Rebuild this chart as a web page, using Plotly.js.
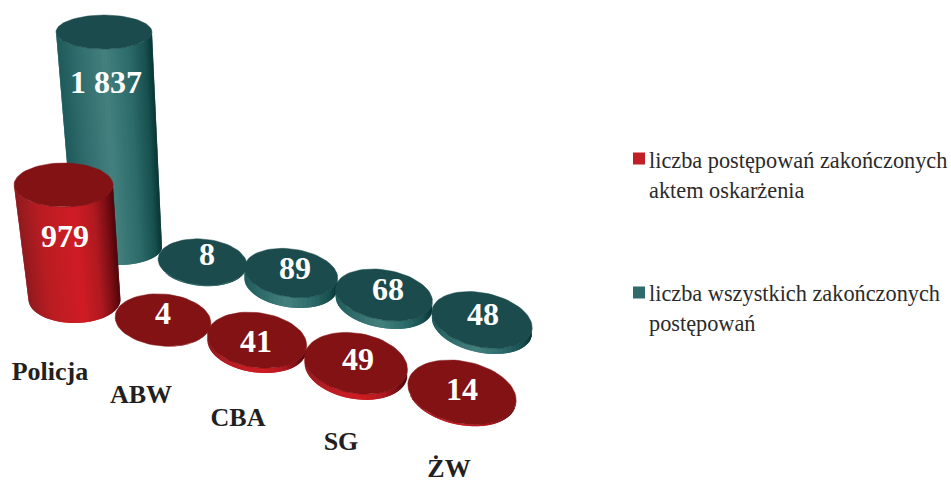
<!DOCTYPE html>
<html><head><meta charset="utf-8">
<script src="https://cdn.plot.ly/plotly-3.0.1.min.js"></script>
<style>html,body{margin:0;padding:0;background:#fff}#c{width:951px;height:482px}</style>
</head><body><div id="c"></div>
<script>
// ---- data ----
const categories = ['Policja','ABW','CBA','SG','ŻW'];
const accusedCases = [979,4,41,49,14];
const allCases = [1837,8,89,68,48];
const seriesNames = ['liczba postępowań zakończonych aktem oskarżenia','liczba wszystkich zakończonych postępowań'];
const legendLines1 = ['liczba postępowań zakończonych','aktem oskarżenia'];
const legendLines2 = ['liczba wszystkich zakończonych','postępowań'];

// ---- picture geometry (pseudo-3D placement, px) ----
const W=951,H=482,K=0.117; // px per case
const accusedBaseX=[74.5,163,257,356,462], accusedBaseY=[299.5,320.5,345,369,394];
const accusedRx=[46,48,50,52,55], accusedRy=[23.5,26,27.5,30,31];
const allBaseX=[118,202.5,291,384,482], allBaseY=[247,263,283.4,303,325.6];
const allRx=[44,44.5,47,49,51], allRy=[18,23,24,25,27];
const rotation=[0,5,8,10,12];
const accusedTop=[{dx:-11,sx:49.5/46,sy:22/23.5},null,null,null,null];
const allTop=[{dx:-14,sx:48/44,sy:17/18},null,null,null,null];
const accusedLabelPx=[[65,239],[163,316],[256,344],[358,362],[462,392]];
const allLabelPx=[[106,85],[207,257],[295,271],[388,292],[483,317]];
const catLabelPx=[[50,373],[141,396],[238,419],[341,443],[449,470]];
const swatchPx=[[639,158.5],[639,292.5]];

const redStops=[[-1,[142,26,30]],[-.5,[184,29,34]],[.2,[208,28,36]],[.6,[176,26,32]],[.85,[122,14,20]],[1,[79,6,11]]];
const tealStops=[[-1,[31,90,90]],[-.6,[45,106,105]],[0,[67,128,126]],[.5,[45,108,107]],[.85,[23,80,79]],[1,[8,53,53]]];
const redTop='#831214', tealTop='#1b4b4d';

const yv=p=>(H-p)/K;
function shade(stops,t){
  for(let i=1;i<stops.length;i++){
    if(t<=stops[i][0]){
      const a=stops[i-1],b=stops[i],f=(t-a[0])/(b[0]-a[0]);
      return 'rgb('+a[1].map((c,j)=>Math.round(c+(b[1][j]-c)*f)).join(',')+')';
    }
  }
  return 'rgb('+stops[stops.length-1][1].join(',')+')';
}
function pt(cx,cy,rx,ry,rot,th){
  const c=Math.cos(rot),s=Math.sin(rot),a=rx*Math.cos(th),b=ry*Math.sin(th);
  return [cx+a*c-b*s, cy+a*s+b*c];
}
const traces=[];
function poly(points,color,lw){
  traces.push({type:'scatter',mode:'lines',x:points.map(p=>p[0]),y:points.map(p=>yv(p[1])),
    fill:'toself',fillcolor:color,line:{color:color,width:lw},hoverinfo:'skip',showlegend:false});
}
function column(value,cx,cy,rx,ry,rotDeg,top,stops,topColor){
  const h=value*K, rot=rotDeg*Math.PI/180;
  const t=top||{dx:0,sx:1,sy:1};
  const tx=cx+t.dx, ty=cy-h, trx=rx*t.sx, try_=ry*t.sy;
  const n=top?48:30;
  // painted from both outer edges toward the middle, each strip overlapping the one before, so no seams show
  const order=[];
  for(let i=0;i<n;i++) order.push(i);
  order.forEach(i=>{
    const a=Math.PI*i/n,b=Math.min(Math.PI,Math.PI*(i+2)/n),m=Math.PI*(i+.5)/n;
    poly([pt(cx,cy,rx,ry,rot,a),pt(cx,cy,rx,ry,rot,b),pt(tx,ty,trx,try_,rot,b),pt(tx,ty,trx,try_,rot,a),pt(cx,cy,rx,ry,rot,a)],
      shade(stops,Math.cos(m)),0);
  });
  const face=[];
  for(let i=0;i<=72;i++) face.push(pt(tx,ty,trx,try_,rot,2*Math.PI*i/72));
  poly(face,topColor,0.5);
}
allCases.forEach((v,i)=>column(v,allBaseX[i],allBaseY[i],allRx[i],allRy[i],rotation[i],allTop[i],tealStops,tealTop));
accusedCases.forEach((v,i)=>column(v,accusedBaseX[i],accusedBaseY[i],accusedRx[i],accusedRy[i],rotation[i],accusedTop[i],redStops,redTop));

const fmt=v=>String(v).replace(/\B(?=(\d{3})+$)/g,' ');
const serif='"Liberation Serif","Times New Roman",serif';
function labels(vals,pos){
  traces.push({type:'scatter',mode:'text',x:pos.map(p=>p[0]),y:pos.map(p=>yv(p[1])),text:vals.map(fmt),
    textposition:'middle center',textfont:{family:serif,size:32,color:'#ffffff',weight:700},hoverinfo:'skip',showlegend:false});
}
labels(allCases,allLabelPx);
labels(accusedCases,accusedLabelPx);
traces.push({type:'scatter',mode:'text',x:catLabelPx.map(p=>p[0]),y:catLabelPx.map(p=>yv(p[1])),text:categories,
  textposition:'middle center',textfont:{family:serif,size:26,color:'#231f20',weight:700},hoverinfo:'skip',showlegend:false});
// legend swatches
['#c01f26','#2f6b6b'].forEach((col,i)=>traces.push({type:'scatter',mode:'markers',name:seriesNames[i],
  x:[swatchPx[i][0]],y:[yv(swatchPx[i][1])],marker:{symbol:'square',size:12,color:col},hoverinfo:'skip',showlegend:false}));

const legendAnn=[];
[[legendLines1,[160.5,190.5]],[legendLines2,[293,323]]].forEach(([lines,ys])=>{
  lines.forEach((txt,i)=>legendAnn.push({text:txt,xref:'x',yref:'y',x:649,y:yv(ys[i]),xanchor:'left',yanchor:'middle',showarrow:false,
    font:{family:serif,size:22.3,color:'#2b2a29'},xshift:-2}));
});

Plotly.newPlot('c',traces,{
  width:W,height:H,margin:{l:0,r:0,t:0,b:0},paper_bgcolor:'#fff',plot_bgcolor:'#fff',showlegend:false,
  xaxis:{range:[0,W],visible:false,fixedrange:true},
  yaxis:{range:[0,H/K],visible:false,fixedrange:true},
  annotations:legendAnn
},{staticPlot:true,displayModeBar:false});
</script></body></html>
